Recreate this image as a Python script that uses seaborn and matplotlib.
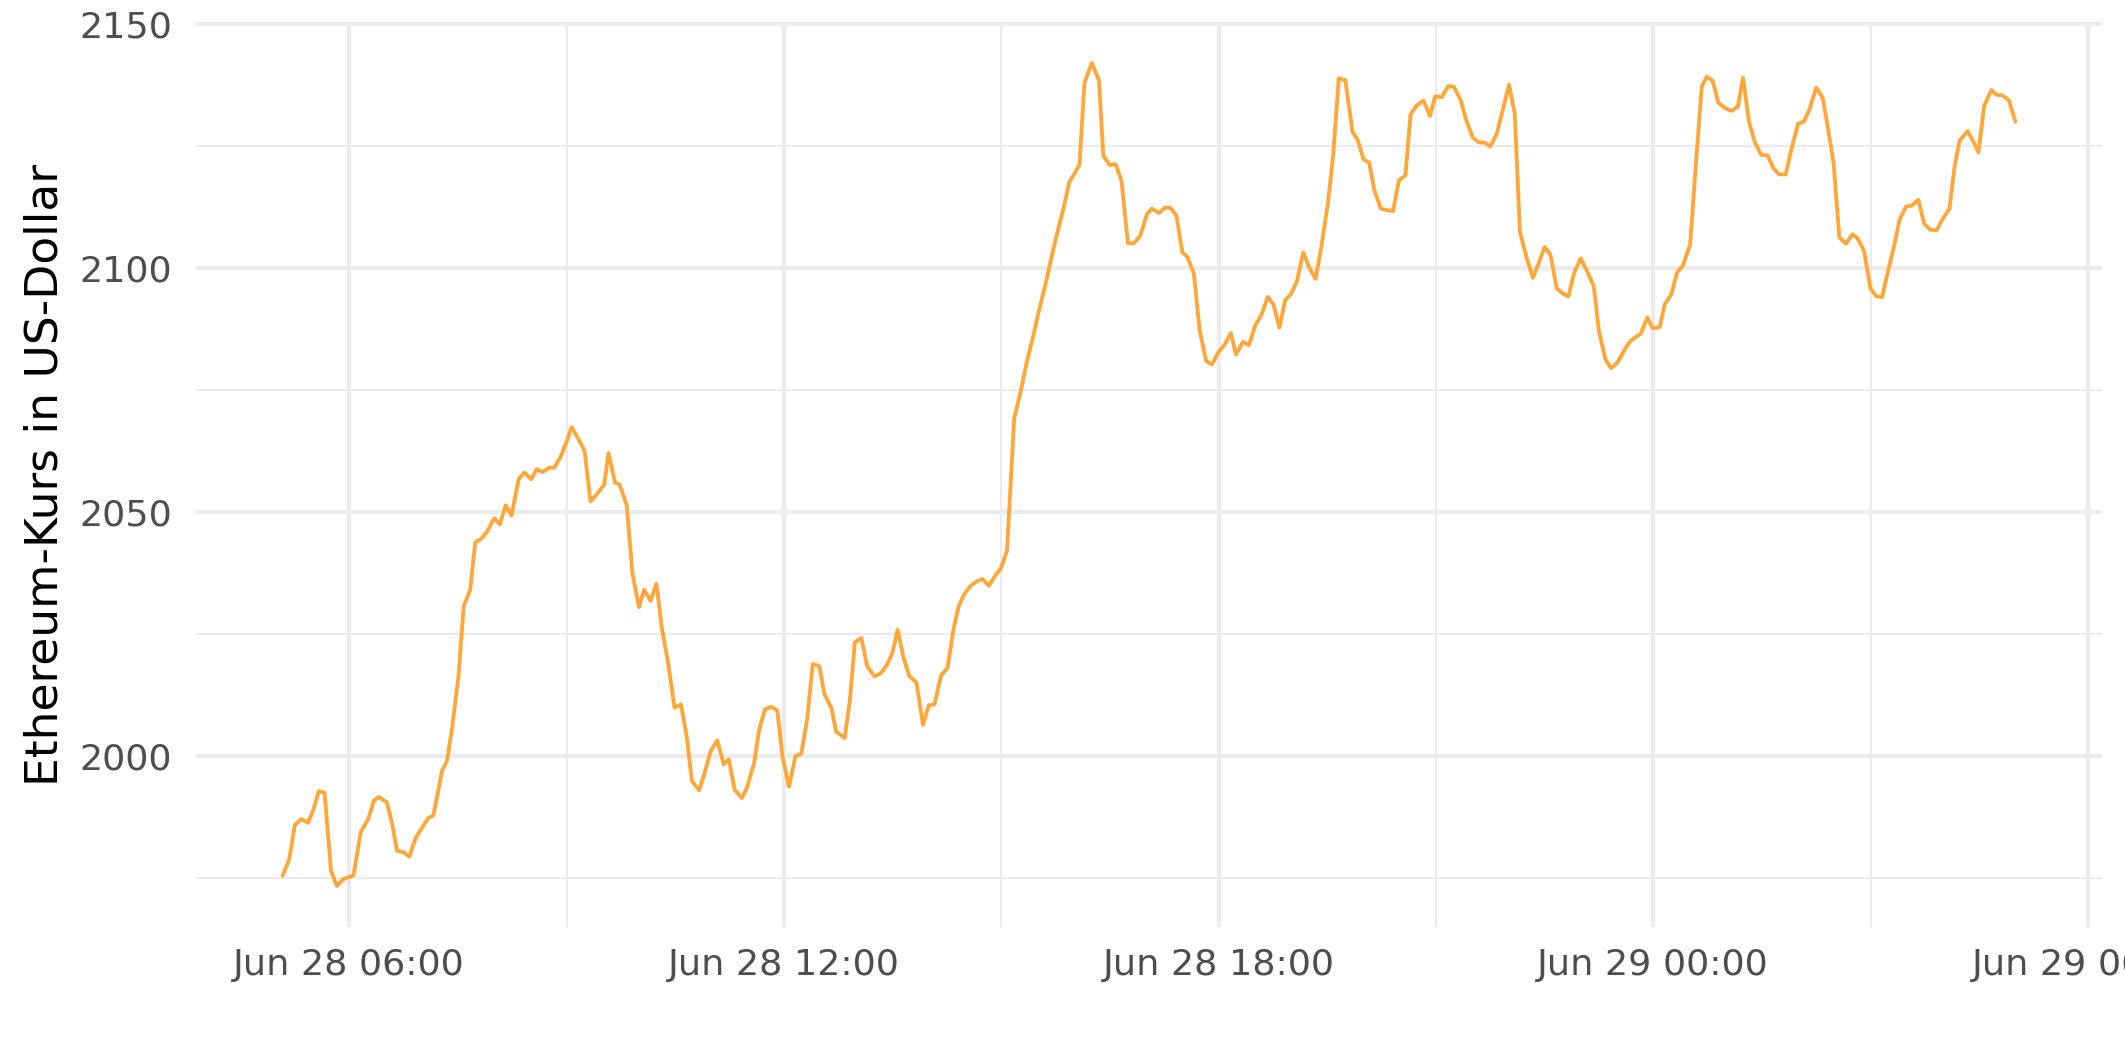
import matplotlib
matplotlib.use("Agg")
import matplotlib.pyplot as plt
import matplotlib.dates as mdates
from matplotlib.ticker import FixedLocator
import numpy as np
import pandas as pd
import seaborn as sns

# hours after 2021-06-28 00:00
hours = [
    5.08, 5.17, 5.25, 5.34, 5.43, 5.50, 5.58, 5.66, 5.75, 5.83, 5.92, 6.00, 6.06, 6.16, 6.26,
    6.34, 6.41, 6.52, 6.59, 6.66, 6.75, 6.83, 6.92, 7.00, 7.09, 7.16, 7.23, 7.28, 7.35, 7.42,
    7.51, 7.58, 7.67, 7.74, 7.82, 7.90, 8.00, 8.08, 8.16, 8.24, 8.34, 8.42, 8.51, 8.59, 8.67,
    8.76, 8.83, 8.92, 9.00, 9.07, 9.17, 9.25, 9.33, 9.42, 9.52, 9.58, 9.67, 9.73, 9.83, 9.91,
    10.00, 10.07, 10.16, 10.24, 10.32, 10.40, 10.49, 10.58, 10.66, 10.73, 10.83, 10.90, 10.99,
    11.08, 11.17, 11.24, 11.32, 11.42, 11.49, 11.59, 11.66, 11.74, 11.83, 11.91, 11.98, 12.07,
    12.16, 12.24, 12.32, 12.40, 12.49, 12.56, 12.66, 12.72, 12.84, 12.91, 12.98, 13.07, 13.15,
    13.25, 13.34, 13.42, 13.50, 13.57, 13.65, 13.73, 13.83, 13.92, 14.00, 14.08, 14.17, 14.26,
    14.34, 14.41, 14.49, 14.58, 14.66, 14.74, 14.83, 14.92, 15.00, 15.08, 15.18, 15.27, 15.35,
    15.44, 15.52, 15.61, 15.69, 15.77, 15.86, 15.94, 16.08, 16.15, 16.25, 16.35, 16.41, 16.50,
    16.58, 16.66, 16.75, 16.83, 16.92, 17.01, 17.08, 17.18, 17.26, 17.34, 17.42, 17.50, 17.57,
    17.66, 17.74, 17.83, 17.91, 18.00, 18.08, 18.17, 18.24, 18.34, 18.42, 18.51, 18.59, 18.68,
    18.76, 18.84, 18.92, 19.00, 19.08, 19.17, 19.25, 19.34, 19.42, 19.51, 19.58, 19.66, 19.75,
    19.85, 19.92, 20.00, 20.08, 20.15, 20.24, 20.32, 20.41, 20.49, 20.58, 20.65, 20.74, 20.83,
    20.92, 20.99, 21.08, 21.17, 21.25, 21.34, 21.42, 21.51, 21.59, 21.68, 21.75, 21.84, 21.92,
    22.01, 22.09, 22.16, 22.25, 22.34, 22.42, 22.50, 22.58, 22.67, 22.75, 22.83, 22.91, 23.00,
    23.09, 23.18, 23.25, 23.34, 23.42, 23.51, 23.59, 23.68, 23.83, 23.92, 23.99, 24.09, 24.16,
    24.25, 24.33, 24.41, 24.51, 24.57, 24.67, 24.74, 24.82, 24.90, 24.99, 25.08, 25.17, 25.24,
    25.32, 25.40, 25.49, 25.58, 25.66, 25.74, 25.83, 25.91, 26.00, 26.08, 26.16, 26.25, 26.34,
    26.40, 26.49, 26.57, 26.66, 26.75, 26.82, 26.91, 27.00, 27.08, 27.16, 27.24, 27.33, 27.40,
    27.49, 27.57, 27.66, 27.74, 27.82, 27.91, 27.99, 28.09, 28.16, 28.23, 28.34, 28.42, 28.49,
    28.57, 28.67, 28.74, 28.82, 28.91, 29.00,
]

price = [
    1975.5, 1978.7, 1985.9, 1987.1, 1986.3, 1988.8, 1992.8, 1992.5, 1976.4, 1973.4, 1974.8, 1975.2, 1975.6, 1984.5, 1987.0,
    1990.9, 1991.6, 1990.5, 1986.3, 1980.6, 1980.3, 1979.4, 1983.3, 1985.2, 1987.3, 1987.8, 1993.0, 1996.9, 1999.0, 2005.7,
    2016.6, 2030.7, 2034.1, 2043.8, 2044.5, 2045.9, 2048.7, 2047.5, 2051.4, 2049.3, 2056.8, 2058.1, 2056.7, 2058.8, 2058.2,
    2059.1, 2059.1, 2061.4, 2064.4, 2067.4, 2064.8, 2062.5, 2052.2, 2053.7, 2055.6, 2062.1, 2056.0, 2055.7, 2051.5, 2037.4,
    2030.5, 2034.1, 2031.8, 2035.3, 2025.8, 2019.4, 2009.9, 2010.6, 2003.9, 1994.9, 1993.0, 1996.2, 2001.1,
    2003.2, 1998.3, 1999.3, 1993.1, 1991.4, 1993.5, 1998.6, 2005.5, 2009.6, 2010.1, 2009.3, 2000.0, 1993.7,
    2000.0, 2000.5, 2007.4, 2018.9, 2018.4, 2012.7, 2009.7, 2005.0, 2003.7, 2011.3, 2023.3, 2024.2, 2018.4,
    2016.3, 2017.0, 2018.6, 2021.2, 2025.9, 2020.3, 2016.4, 2015.1, 2006.4, 2010.4, 2010.6, 2016.5, 2018.1,
    2025.9, 2030.6, 2033.2, 2034.9, 2035.8, 2036.3, 2034.9, 2037.0, 2038.6, 2042.1, 2069.2, 2074.8, 2080.5,
    2085.9, 2091.2, 2096.6, 2101.9, 2107.0, 2112.2, 2117.6, 2121.1, 2138.0, 2142.0, 2138.5, 2123.0, 2121.1,
    2121.3, 2117.9, 2105.1, 2105.1, 2106.6, 2111.0, 2112.2, 2111.3, 2112.4, 2112.3, 2110.7, 2103.2, 2102.3,
    2098.8, 2087.2, 2080.9, 2080.3, 2082.8, 2084.2, 2086.7, 2082.3, 2084.9, 2084.2, 2088.4, 2090.3, 2094.1,
    2092.5, 2087.8, 2093.4, 2094.7, 2097.2, 2103.2, 2100.2, 2097.8, 2104.4, 2113.3, 2122.7, 2138.9, 2138.5,
    2127.9, 2126.3, 2122.3, 2121.6, 2116.0, 2112.2, 2111.9, 2111.7, 2118.0, 2119.0, 2131.5, 2133.4, 2134.3,
    2131.2, 2135.2, 2135.0, 2137.3, 2137.1, 2134.5, 2130.3, 2126.7, 2125.8, 2125.7, 2124.9, 2127.5, 2132.2,
    2137.6, 2131.5, 2107.5, 2102.3, 2098.0, 2101.0, 2104.3, 2102.8, 2095.8, 2094.8, 2094.2, 2099.1, 2102.0,
    2099.3, 2096.3, 2087.2, 2081.3, 2079.5, 2080.7, 2082.9, 2085.0, 2086.6, 2089.9, 2087.7, 2087.9, 2092.6,
    2094.6, 2099.1, 2100.5, 2104.8, 2117.3, 2137.2, 2139.2, 2138.4, 2133.9, 2132.8, 2132.2, 2133.1, 2139.0,
    2130.2, 2125.9, 2123.2, 2123.1, 2120.4, 2119.2, 2119.2, 2124.5, 2129.6, 2130.0, 2132.6, 2137.0, 2134.9,
    2129.8, 2121.6, 2106.3, 2105.0, 2106.9, 2106.1, 2103.6, 2095.8, 2094.2, 2094.0, 2099.3, 2104.8, 2109.9,
    2112.6, 2112.8, 2114.0, 2109.1, 2107.9, 2107.7, 2109.9, 2112.2, 2120.8, 2126.1, 2128.1, 2125.9, 2123.7,
    2133.3, 2136.5, 2135.5, 2135.4, 2134.4, 2130.0,
]

y_major = [2000, 2050, 2100, 2150]
y_minor = [1975, 2025, 2075, 2125]
y_label = "Ethereum-Kurs in US-Dollar"

base = pd.Timestamp("2021-06-28 00:00")
df = pd.DataFrame({
    "zeit": [base + pd.Timedelta(hours=h) for h in hours],
    "kurs": price,
})

sns.set_theme(style="white")
plt.rcParams["font.family"] = ["DejaVu Sans"]

fig = plt.figure(figsize=(8.5, 4.248), dpi=250)
ax = fig.add_axes([0.0922, 0.1271, 0.8970, 0.8522])

sns.lineplot(data=df, x="zeit", y="kurs", ax=ax, color="#FFA638", linewidth=1.1)

ax.margins(x=0.05, y=0.05)

ax.xaxis.set_major_locator(mdates.HourLocator(byhour=[0, 6, 12, 18]))
ax.xaxis.set_minor_locator(mdates.HourLocator(byhour=[3, 9, 15, 21]))
ax.xaxis.set_major_formatter(mdates.DateFormatter("%b %d %H:%M"))
ax.yaxis.set_major_locator(FixedLocator(y_major))
ax.yaxis.set_minor_locator(FixedLocator(y_minor))

ax.grid(True, which="major", color="#EBEBEB", linewidth=1.2)
ax.grid(True, which="minor", color="#EBEBEB", linewidth=0.6)
ax.set_axisbelow(True)
for s in ax.spines.values():
    s.set_visible(False)

ax.tick_params(axis="both", which="both", length=0)
ax.tick_params(axis="y", which="major", pad=6.9, labelsize=10.5, labelcolor="#4D4D4D")
ax.tick_params(axis="x", which="major", pad=6.0, labelsize=10.5, labelcolor="#4D4D4D")

ax.set_xlabel("")
ax.set_ylabel(y_label, fontsize=13.1, color="black", labelpad=3.6)

fig.savefig("out.png", dpi=250, facecolor="white")
